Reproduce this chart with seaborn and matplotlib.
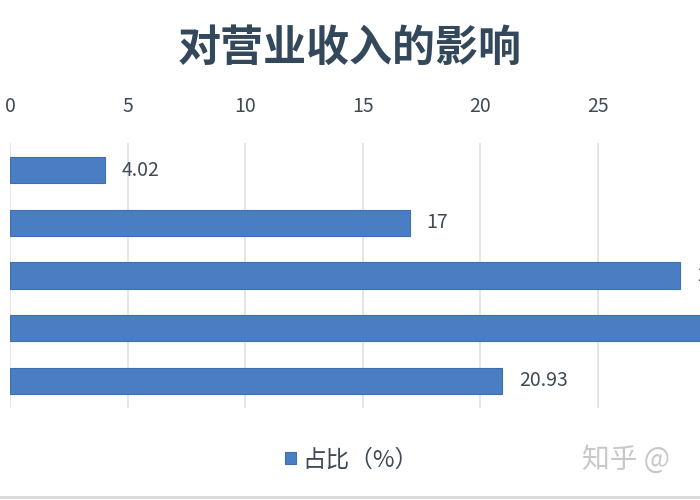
import matplotlib
matplotlib.use("Agg")
import matplotlib.pyplot as plt
import seaborn as sns
import pandas as pd
from matplotlib.lines import Line2D

categories = ["类别1", "类别2", "类别3", "类别4", "类别5"]
values = [4.02, 17, 28.5, 29.55, 20.93]
value_labels = ["4.02", "17", "28.5", "29.55", "20.93"]
xticks = [0, 5, 10, 15, 20, 25]
title = "对营业收入的影响"
series_name = "占比（%）"
watermark = "知乎 @"

sns.set_theme(style="white")
plt.rcParams['font.family'] = ['Noto Sans CJK SC', 'DejaVu Sans']

df = pd.DataFrame({"cat": categories, "val": values})

W, H = 700, 500
fig = plt.figure(figsize=(7, 5), dpi=100)
fig.patch.set_facecolor("white")
ax = fig.add_axes([10 / W, (H - 408) / H, (W - 10) / W, (408 - 143) / H])

sns.barplot(data=df, x="val", y="cat", orient="h", color="#4A7EC2",
            width=0.5, saturation=1, ax=ax, label=series_name,
            edgecolor="#3F6FAE", linewidth=0.8, zorder=3)

ax.set_xlim(0, (W - 10) / 23.52)
ax.set_ylim(4.52, -0.52)
ax.set_xticks(xticks)
ax.set_xticklabels([str(t) for t in xticks])
ax.xaxis.tick_top()
ax.tick_params(axis="x", length=0, pad=19, labelsize=14, labelcolor="#3F4A56")
ax.tick_params(axis="y", left=False, labelleft=False)
ax.set_xlabel("")
ax.set_ylabel("")
ax.grid(axis="x", color="#DCE1E8", linewidth=1.2, zorder=0)
ax.grid(axis="y", visible=False)
for s in ax.spines.values():
    s.set_visible(False)
ax.set_facecolor("none")

for i, (v, lab) in enumerate(zip(values, value_labels)):
    ax.annotate(lab, xy=(v, i), xytext=(12, 0), textcoords="offset points",
                ha="left", va="center", fontsize=14, color="#3F4A56",
                annotation_clip=False)

fig.text(0.5, 1 - 48 / H, title, ha="center", va="center", fontsize=31,
         fontweight="bold", color="#34485C")

ax.legend(loc="center", bbox_to_anchor=(352 / W, 40 / H),
          bbox_transform=fig.transFigure, frameon=False, fontsize=17,
          handlelength=0.45, handleheight=0.45, handletextpad=0.3,
          labelcolor="#3F4A56")

fig.text(582 / W, 40 / H, watermark, ha="left", va="center", fontsize=20,
         color="#C8C8C8")

fig.add_artist(Line2D([0, 1], [3 / H, 3 / H], color="#D9D9D9", lw=2,
                      transform=fig.transFigure))

fig.savefig("out.png", dpi=100)
